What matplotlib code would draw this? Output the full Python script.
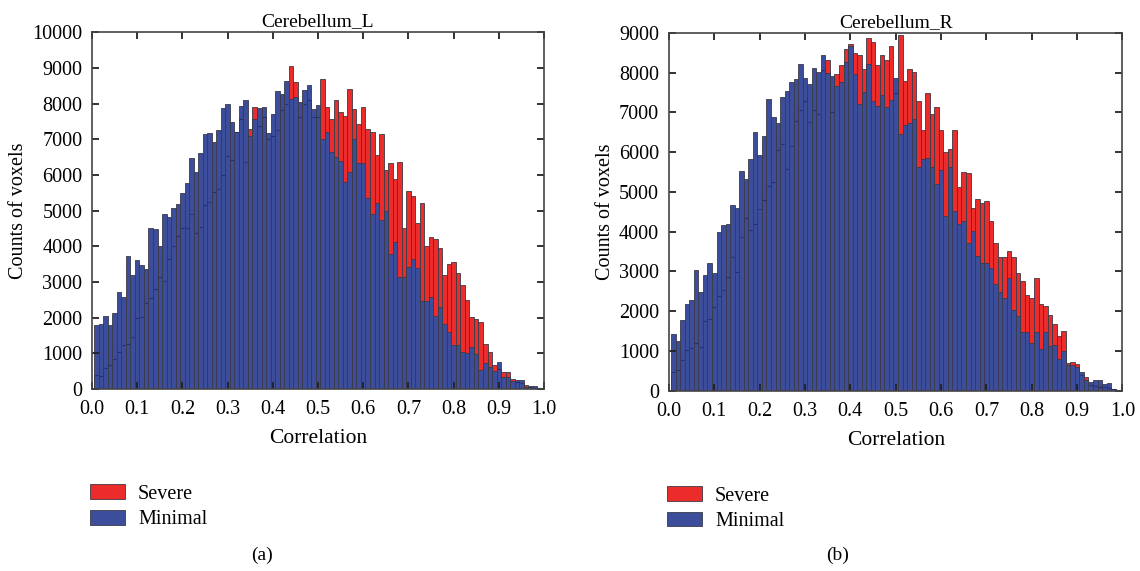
import numpy as np
import matplotlib.pyplot as plt

plt.rcParams['font.family'] = ['Liberation Serif', 'DejaVu Serif']

# bin centres 0.01 ... 0.99
centers = np.arange(1, 100) / 100.0

# Cerebellum_L
left_minimal = [1780, 1830, 2040, 1800, 2130, 2720, 2580, 3730, 3190, 3620,
                3470, 3360, 4520, 4480, 4000, 4900, 4830, 5080, 5190, 5490,
                5770, 6470, 6070, 6620, 7140, 7180, 6920, 7250, 7880, 7980,
                7470, 7210, 7920, 8110, 7080, 7560, 7880, 7910, 7160, 7720,
                8360, 8270, 8630, 8120, 8190, 8050, 8370, 8520, 7860, 7950,
                7000, 7210, 6630, 6490, 6400, 5810, 6070, 7000, 6330, 6330,
                5360, 4900, 5200, 4740, 4980, 3790, 4110, 3150, 3150, 3430,
                3650, 3390, 2470, 2470, 2580, 2050, 2300, 1830, 1600, 1240,
                1240, 1035, 1010, 1190, 980, 540, 730, 610, 510, 770,
                340, 340, 215, 260, 260, 50, 75, 75, 30]
left_severe = [390, 360, 590, 670, 840, 1050, 1240, 1270, 1470, 2000,
               2030, 2420, 2560, 2800, 3130, 3030, 3650, 4020, 4300, 4500,
               4510, 4900, 4380, 4530, 5160, 5250, 5530, 5600, 6000, 6530,
               6420, 7190, 7580, 6370, 7300, 7910, 7370, 7630, 7000, 7100,
               7260, 7820, 8000, 9060, 8600, 7630, 8000, 8100, 7610, 7630,
               8680, 7910, 7570, 8090, 7770, 7660, 8420, 7840, 7430, 7910,
               7300, 7190, 6570, 7140, 6150, 6330, 5880, 6350, 4500, 5550,
               5420, 4650, 5220, 4020, 4260, 4210, 3950, 3200, 3500, 3570,
               3250, 2910, 2500, 2030, 1970, 1880, 1260, 1030, 660, 560,
               490, 490, 280, 200, 180, 120, 60, 40, 20]

# Cerebellum_R
right_minimal = [1420, 1250, 1780, 2180, 2280, 3040, 2480, 2920, 3210, 2970,
                 4000, 4170, 4200, 4660, 4590, 5530, 5320, 5840, 6520, 5920,
                 6400, 7340, 6890, 6730, 7400, 7550, 7770, 7840, 8220, 7870,
                 7720, 8120, 8030, 8440, 7990, 7930, 7670, 7760, 8270, 8670,
                 7970, 7210, 7510, 8220, 7280, 7170, 7450, 7140, 7320, 7870,
                 6470, 6690, 6730, 6840, 5640, 5830, 5860, 5640, 5200, 5560,
                 4390, 5630, 4530, 4200, 4270, 3720, 4010, 3380, 3210, 3220,
                 3080, 2680, 2490, 2330, 2830, 2030, 1890, 1470, 1470, 1210,
                 1470, 1040, 1470, 1130, 1150, 790, 990, 640, 650, 590,
                 470, 270, 220, 260, 260, 180, 190, 35, 17]
right_severe = [480, 520, 760, 1020, 1070, 1210, 1110, 1760, 1800, 2100,
                2370, 2540, 2860, 3370, 2980, 3870, 4340, 4050, 4200, 4580,
                4800, 5160, 5240, 6060, 6210, 5580, 6150, 6780, 7070, 7300,
                6760, 7070, 6960, 8080, 8310, 7010, 7970, 8200, 8610, 8730,
                8500, 8440, 8100, 8880, 8780, 8200, 8440, 8330, 8680, 7500,
                8960, 7780, 8090, 8030, 7300, 6550, 7480, 6960, 7150, 6560,
                6010, 6080, 6570, 5120, 5500, 5470, 4600, 4820, 4710, 4770,
                4270, 3710, 3360, 3360, 3520, 3360, 2960, 2750, 2410, 2330,
                2830, 2180, 2120, 1900, 1680, 1380, 1490, 690, 730, 670,
                400, 340, 150, 120, 100, 80, 60, 30, 10]

red = '#ec2b2b'
blue = '#3c4d9c'
edge = '#3a3a48'

fig = plt.figure(figsize=(11.4, 5.71), dpi=100)
ax1 = fig.add_axes([0.0807, 0.3187, 0.3965, 0.625])
ax2 = fig.add_axes([0.5868, 0.3158, 0.3978, 0.6264])


def draw(ax, minimal, severe, title, ymax):
    minimal = np.array(minimal)
    severe = np.array(severe)
    ax.bar(centers, severe, width=0.01, color=red, edgecolor=edge,
           linewidth=0.6, label='Severe')
    ax.bar(centers, minimal, width=0.01, color=blue, edgecolor=edge,
           linewidth=0.6, label='Minimal')
    # severe tops hidden behind the minimal bars
    hid = severe < minimal
    ax.hlines(severe[hid], centers[hid] - 0.004, centers[hid] + 0.004,
              color='#26306a', linewidth=0.8)
    ax.set_xlim(0, 1)
    ax.set_ylim(0, ymax)
    ax.set_xticks(np.arange(0, 1.01, 0.1))
    ax.set_xticklabels(['%.1f' % v for v in np.arange(0, 1.01, 0.1)])
    ax.set_yticks(np.arange(0, ymax + 1, 1000))
    ax.tick_params(direction='in', top=True, right=True, length=5,
                   width=1.3, labelsize=14.5, color='#222222')
    ax.tick_params(axis='y', pad=7)
    ax.tick_params(axis='x', pad=8)
    for s in ax.spines.values():
        s.set_color('#444444')
        s.set_linewidth(1.2)
    ax.set_title(title, fontsize=14, pad=4)
    ax.set_xlabel('Correlation', fontsize=15.5, labelpad=7)
    ax.set_ylabel('Counts of voxels', fontsize=14.5, labelpad=3)
    ax.legend(loc='center left', bbox_to_anchor=(-0.005, -0.33), frameon=False,
              fontsize=14.5, handlelength=1.75, handleheight=0.75,
              labelspacing=0.3, handletextpad=0.65, borderaxespad=0,
              borderpad=0)


draw(ax1, left_minimal, left_severe, 'Cerebellum_L', 10000)
draw(ax2, right_minimal, right_severe, 'Cerebellum_R', 9000)

fig.text(262 / 1140, 1 - 555 / 571, '(a)', ha='center', va='center', fontsize=14)
fig.text(838 / 1140, 1 - 555 / 571, '(b)', ha='center', va='center', fontsize=14)

fig.savefig('out.png', dpi=100)
